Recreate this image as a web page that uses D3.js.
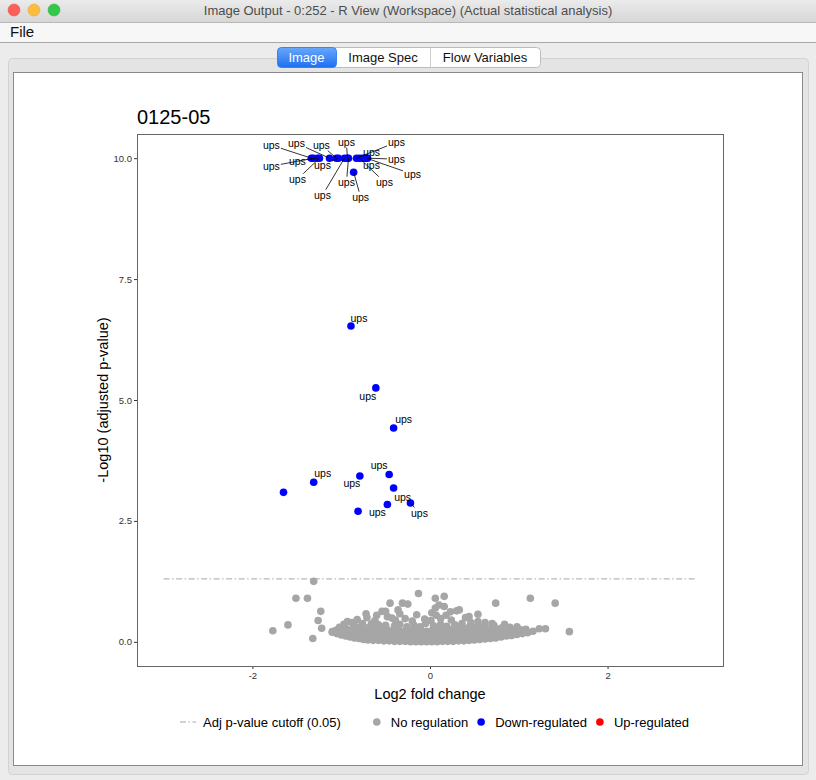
<!DOCTYPE html>
<html>
<head>
<meta charset="utf-8">
<script src="https://cdn.jsdelivr.net/npm/d3@7"></script>
<style>
  body { margin: 0; background: #ececec; }
  svg { display: block; font-family: "Liberation Sans", Arial, sans-serif; }
</style>
</head>
<body>
<svg id="chart" width="816" height="780"></svg>
<script>
// chart data
const title = '0125-05'
const xTicks = [-2, 0, 2]
const yTicks = [0, 2.5, 5, 7.5, 10]
const cutoff = -Math.log10(0.05)
const cutoffSpan = [-3, 3]

// down-regulated proteins (log2 fold change, -log10 adj p)
const downX = [-1.336, -1.313, -1.268, -1.245, -1.132, -1.054, -1.031, -0.963, -0.930, -0.918,
    -0.828, -0.794, -0.760, -0.738, -0.715, -0.704, -0.860,
    -0.89, -0.61, -0.41, -1.65, -1.31, -0.79, -0.46, -0.41, -0.48, -0.22, -0.81]
const downY = [10, 10, 10, 10, 10, 10, 10, 10, 10, 10,
    10, 10, 10, 10, 10, 10, 9.71,
    6.53, 5.25, 4.42, 3.09, 3.30, 3.43, 3.46, 3.18, 2.84, 2.87, 2.70]
const downLabel = ['ups', 'ups', 'ups', 'ups', 'ups', 'ups', 'ups', 'ups', 'ups', 'ups',
    'ups', 'ups', 'ups', 'ups', 'ups', 'ups', 'ups',
    'ups', 'ups', 'ups', '', 'ups', 'ups', 'ups', 'ups', 'ups', 'ups', '']

// up-regulated: none in this comparison
const upX = []
const upY = []

// not regulated proteins
const noneXY = [
    [-1.31, 1.25], [-1.51, 0.90], [-1.38, 0.90], [-1.23, 0.63], [-1.26, 0.44], [-1.22, 0.28], [-1.32, 0.07],
    [-1.77, 0.23], [-1.60, 0.35], [-1.10, 0.21], [-0.93, 0.42], [-0.71, 0.50], [-0.54, 0.63], [-0.50, 0.63],
    [-0.45, 0.80], [-0.31, 0.80], [-0.25, 0.78], [-0.13, 1.00], [-0.15, 0.56], [-0.43, 0.49], [0.06, 0.90],
    [0.06, 0.70], [0.10, 0.76], [0.16, 0.73], [0.16, 0.94], [0.23, 0.62], [0.30, 0.64], [0.33, 0.66],
    [0.54, 0.57], [0.70, 0.38], [0.74, 0.80], [1.13, 0.90], [1.41, 0.80], [1.57, 0.21], [1.30, 0.27],
    [0.07, 0.55], [-0.60, 0.55], [-0.36, 0.66], [0.44, 0.52], [-0.72, 0.58],
    [-1.10, 0.20], [-1.05, 0.17], [-1.00, 0.14], [-0.95, 0.12], [-0.90, 0.10], [-0.85, 0.08], [-0.80, 0.07],
    [-0.75, 0.05], [-0.70, 0.04], [-0.64, 0.03], [-0.58, 0.03], [-0.52, 0.02], [-0.46, 0.02], [-0.40, 0.01],
    [-0.34, 0.01], [-0.28, 0.01], [-0.22, 0.00], [-0.16, 0.00], [-0.10, 0.00], [-0.04, 0.00], [0.02, 0.00],
    [0.08, 0.00], [0.14, 0.01], [0.20, 0.01], [0.26, 0.01], [0.32, 0.02], [0.38, 0.02], [0.44, 0.03],
    [0.50, 0.04], [0.56, 0.05], [0.62, 0.06], [0.68, 0.07], [0.74, 0.08], [0.80, 0.10], [0.86, 0.12],
    [0.92, 0.13], [0.98, 0.15], [1.04, 0.17], [1.10, 0.19], [1.16, 0.22], [1.23, 0.27],
    [-1.06, 0.24], [-0.98, 0.22], [-0.92, 0.19], [-0.86, 0.17], [-0.80, 0.15], [-0.74, 0.13], [-0.68, 0.12],
    [-0.62, 0.11], [-0.56, 0.10], [-0.50, 0.09], [-0.44, 0.09], [-0.38, 0.08], [-0.32, 0.08], [-0.26, 0.07],
    [-0.20, 0.07], [-0.14, 0.07], [-0.08, 0.06], [-0.02, 0.07], [0.04, 0.07], [0.10, 0.08], [0.16, 0.08],
    [0.22, 0.09], [0.28, 0.09], [0.34, 0.10], [0.40, 0.11], [0.46, 0.12], [0.52, 0.13], [0.58, 0.14],
    [0.64, 0.15], [0.70, 0.17], [0.76, 0.18], [0.82, 0.20], [0.88, 0.21], [0.95, 0.23], [1.02, 0.25], [1.08, 0.26],
    [-1.02, 0.30], [-0.95, 0.28], [-0.88, 0.26], [-0.82, 0.24], [-0.76, 0.22], [-0.69, 0.21], [-0.63, 0.19],
    [-0.57, 0.18], [-0.51, 0.17], [-0.45, 0.17], [-0.39, 0.16], [-0.33, 0.16], [-0.27, 0.15], [-0.21, 0.15],
    [-0.15, 0.14], [-0.09, 0.15], [-0.03, 0.14], [0.03, 0.15], [0.09, 0.16], [0.15, 0.16], [0.21, 0.17],
    [0.27, 0.17], [0.33, 0.18], [0.39, 0.19], [0.45, 0.20], [0.51, 0.21], [0.57, 0.22], [0.63, 0.24],
    [0.69, 0.26], [0.75, 0.27], [0.81, 0.29], [0.90, 0.30], [0.98, 0.31],
    [-0.97, 0.36], [-0.85, 0.33], [-0.78, 0.31], [-0.70, 0.29], [-0.62, 0.27], [-0.55, 0.26], [-0.48, 0.25],
    [-0.41, 0.24], [-0.35, 0.24], [-0.28, 0.23], [-0.22, 0.23], [-0.16, 0.22], [-0.10, 0.23], [-0.04, 0.22],
    [0.02, 0.23], [0.08, 0.24], [0.14, 0.25], [0.20, 0.24], [0.26, 0.26], [0.32, 0.27], [0.38, 0.28],
    [0.44, 0.30], [0.50, 0.29], [0.56, 0.31], [0.62, 0.33], [0.72, 0.34], [0.84, 0.36],
    [-0.88, 0.40], [-0.76, 0.38], [-0.66, 0.37], [-0.58, 0.35], [-0.50, 0.34], [-0.40, 0.33], [-0.34, 0.36],
    [-0.26, 0.31], [-0.18, 0.34], [-0.11, 0.31], [-0.05, 0.38], [0.04, 0.33], [0.12, 0.36], [0.19, 0.32],
    [0.28, 0.35], [0.36, 0.38], [0.46, 0.40], [0.54, 0.42], [0.62, 0.40],
    [-0.82, 0.46], [-0.62, 0.44], [-0.39, 0.45], [-0.28, 0.48], [-0.20, 0.43], [-0.06, 0.47], [0.01, 0.44],
    [0.12, 0.48], [0.24, 0.45], [0.40, 0.50], [-0.48, 0.52], [-0.34, 0.58], [0.02, 0.60], [0.18, 0.55]
]

const legendItems = [
    { name: 'No regulation', color: '#a6a6a6' },
    { name: 'Down-regulated', color: '#0000ff' },
    { name: 'Up-regulated', color: '#ff0000' }
]

// label placement (pixel nudges, like ggrepel output)
const labelNudge = [
    [-40, -13], [-42, 8], [-20, 3], [-22, 21], [-33, -15], [-15, -13], [-16, 7], [-22, 37], [-1, -16], [-2, 24],
    [40, -16], [25, 24], [9, -6], [7, 7], [46, 16], [29, 1], [7, 25],
    [8, -8], [-8, 9], [10, -9], null, [9, -9], [-8, 8], [-10, -9], [9, 9], [-10, 8], [9, 10], null
]

const svg = d3.select('#chart')

// ---- window chrome ----
const grad = svg.append('defs').append('linearGradient').attr('id', 'tb').attr('x1', 0).attr('x2', 0).attr('y1', 0).attr('y2', 1)
grad.append('stop').attr('offset', 0).attr('stop-color', '#ebebeb')
grad.append('stop').attr('offset', 1).attr('stop-color', '#d6d6d6')
const tabGrad = svg.select('defs').append('linearGradient').attr('id', 'tab').attr('x1', 0).attr('x2', 0).attr('y1', 0).attr('y2', 1)
tabGrad.append('stop').attr('offset', 0).attr('stop-color', '#69a8fa')
tabGrad.append('stop').attr('offset', 1).attr('stop-color', '#1d6ff2')

svg.append('rect').attr('width', 816).attr('height', 22).attr('fill', 'url(#tb)')
svg.append('line').attr('x1', 0).attr('x2', 816).attr('y1', 22.5).attr('y2', 22.5).attr('stroke', '#b8b8b8')
;[['#fc605b', '#de4a45', 14], ['#fdbc40', '#dea236', 34], ['#34c84a', '#27aa35', 54]].forEach(([f, s, cx]) => {
    svg.append('circle').attr('cx', cx).attr('cy', 10).attr('r', 6).attr('fill', f).attr('stroke', s).attr('stroke-width', 0.5)
})
svg.append('text').attr('x', 408).attr('y', 15).attr('text-anchor', 'middle')
    .attr('font-size', 13).attr('fill', '#4d4d4d')
    .text('Image Output - 0:252 - R View (Workspace) (Actual statistical analysis)')

svg.append('rect').attr('y', 23).attr('width', 816).attr('height', 19).attr('fill', '#f7f7f7')
svg.append('line').attr('x1', 0).attr('x2', 816).attr('y1', 42.5).attr('y2', 42.5).attr('stroke', '#a8a8a8')
svg.append('text').attr('x', 10).attr('y', 37).attr('font-size', 15).attr('fill', '#111').text('File')

svg.append('rect').attr('x', 8.5).attr('y', 58.5).attr('width', 800).attr('height', 716).attr('rx', 4)
    .attr('fill', '#e4e4e4').attr('stroke', '#d2d2d2')
svg.append('rect').attr('x', 13.5).attr('y', 72.5).attr('width', 789).attr('height', 693)
    .attr('fill', '#fff').attr('stroke', '#8a8a8a')

// tabs
const tabs = [{ t: 'Image', x0: 277, x1: 336 }, { t: 'Image Spec', x0: 336, x1: 430 }, { t: 'Flow Variables', x0: 430, x1: 540 }]
svg.append('rect').attr('x', 277.5).attr('y', 47.5).attr('width', 263).attr('height', 20).attr('rx', 4)
    .attr('fill', '#fff').attr('stroke', '#bdbdbd')
svg.append('rect').attr('x', 277.5).attr('y', 47.5).attr('width', 59).attr('height', 20).attr('rx', 4)
    .attr('fill', 'url(#tab)').attr('stroke', '#3b82f0')
svg.append('line').attr('x1', 430.5).attr('x2', 430.5).attr('y1', 48).attr('y2', 67).attr('stroke', '#cfcfcf')
tabs.forEach((d, i) => {
    svg.append('text').attr('x', (d.x0 + d.x1) / 2).attr('y', 62).attr('text-anchor', 'middle')
        .attr('font-size', 13).attr('fill', i === 0 ? '#fff' : '#111').text(d.t)
})

// ---- plot ----
const panel = { left: 137, right: 723, top: 134, bottom: 666 }
const x = d3.scaleLinear().domain([-3.3, 3.3]).range([panel.left, panel.right])
const y = d3.scaleLinear().domain([-0.5, 10.5]).range([panel.bottom, panel.top])

const g = svg.append('g')

g.append('text').attr('x', panel.left).attr('y', 124).attr('font-size', 20).attr('fill', '#000').text(title)

// axes
const yAxis = g.append('g').attr('transform', `translate(${panel.left},0)`)
    .call(d3.axisLeft(y).tickValues(yTicks).tickFormat(d3.format('.1f')).tickSize(3).tickPadding(2))
const xAxis = g.append('g').attr('transform', `translate(0,${panel.bottom})`)
    .call(d3.axisBottom(x).tickValues(xTicks).tickFormat(d => d < 0 ? '-' + Math.abs(d) : d).tickSize(3).tickPadding(3))
;[xAxis, yAxis].forEach(a => {
    a.select('.domain').remove()
    a.selectAll('line').attr('stroke', '#333')
    a.selectAll('text').attr('font-size', 9.5).attr('fill', '#333').attr('font-family', '"Liberation Sans", Arial, sans-serif')
})

// cutoff line
g.append('line')
    .attr('x1', x(cutoffSpan[0])).attr('x2', x(cutoffSpan[1]))
    .attr('y1', y(cutoff)).attr('y2', y(cutoff))
    .attr('stroke', '#a6a6a6').attr('stroke-width', 1).attr('stroke-dasharray', '6,2.5,1.5,2.5')

// points
const r = 3.8
g.append('g').selectAll('circle').data(noneXY).join('circle')
    .attr('cx', d => x(d[0])).attr('cy', d => y(d[1])).attr('r', r).attr('fill', legendItems[0].color)
g.append('g').selectAll('circle').data(upX).join('circle')
    .attr('cx', d => x(d)).attr('cy', (d, i) => y(upY[i])).attr('r', r).attr('fill', legendItems[2].color)

const down = downX.map((v, i) => ({ x: v, y: downY[i], label: downLabel[i], nudge: labelNudge[i] }))

// labels with repel-like segments
const labG = g.append('g')
down.forEach(d => {
    if (!d.label || !d.nudge) return
    const px = x(d.x)
    const py = y(d.y)
    const lx = px + d.nudge[0]
    const ly = py + d.nudge[1]
    const hw = 9.5
    const hh = 5.5
    const dx = px - lx
    const dy = py - ly
    // segment from point to label box edge
    const t = Math.min(dx !== 0 ? hw / Math.abs(dx) : Infinity, dy !== 0 ? hh / Math.abs(dy) : Infinity)
    if (t < 1) {
        const ex = lx + dx * t
        const ey = ly + dy * t
        if (Math.hypot(px - ex, py - ey) > 6) {
            labG.append('line').attr('x1', px).attr('y1', py).attr('x2', ex).attr('y2', ey)
                .attr('stroke', '#000').attr('stroke-width', 0.8)
        }
    }
})
g.append('g').selectAll('circle').data(down).join('circle')
    .attr('cx', d => x(d.x)).attr('cy', d => y(d.y)).attr('r', r).attr('fill', legendItems[1].color)
down.forEach(d => {
    if (!d.label || !d.nudge) return
    labG.append('text')
        .attr('x', x(d.x) + d.nudge[0]).attr('y', y(d.y) + d.nudge[1] + 3.5)
        .attr('text-anchor', 'middle').attr('font-size', 10.5).attr('fill', '#000').text(d.label)
})
labG.raise()

// panel border
g.append('rect').attr('x', panel.left + 0.5).attr('y', panel.top + 0.5)
    .attr('width', panel.right - panel.left).attr('height', panel.bottom - panel.top)
    .attr('fill', 'none').attr('stroke', '#666')

// axis titles
g.append('text').attr('x', x(0)).attr('y', 699).attr('text-anchor', 'middle').attr('font-size', 14.5).text('Log2 fold change')
g.append('text').attr('transform', `translate(108,${(panel.top + panel.bottom) / 2}) rotate(-90)`)
    .attr('text-anchor', 'middle').attr('font-size', 14.5).text('-Log10 (adjusted p-value)')

// legend
const lg = g.append('g').attr('transform', 'translate(180,722)')
let cx = 0
lg.append('line').attr('x1', 0).attr('x2', 16).attr('y1', 0).attr('y2', 0)
    .attr('stroke', '#a6a6a6').attr('stroke-dasharray', '6,2.5,1.5,2.5')
const t0 = lg.append('text').attr('x', 23).attr('y', 4.5).attr('font-size', 13).text('Adj p-value cutoff (0.05)')
cx = 23 + t0.node().getComputedTextLength() + 36
legendItems.forEach(d => {
    lg.append('circle').attr('cx', cx).attr('cy', 0).attr('r', 3.8).attr('fill', d.color)
    const t = lg.append('text').attr('x', cx + 14).attr('y', 4.5).attr('font-size', 13).text(d.name)
    cx += 14 + t.node().getComputedTextLength() + 13
})
</script>
</body>
</html>
